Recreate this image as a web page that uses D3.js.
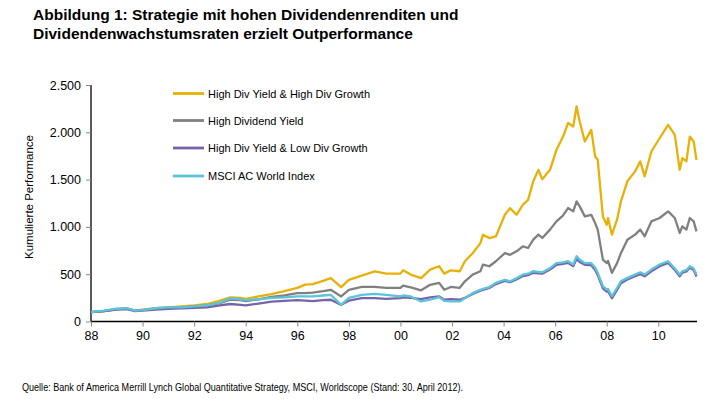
<!DOCTYPE html>
<html>
<head>
<meta charset="utf-8">
<style>
  body { margin: 0; background: #fff; }
  svg { display: block; font-family: "Liberation Sans", Arial, sans-serif; }
</style>
<script src="https://d3js.org/d3.v7.min.js"></script>
</head>
<body>
<svg width="707" height="399"></svg>
<script>
// decimal years of the readings
var years = [1988.0, 1988.5, 1989.0, 1989.4, 1989.7, 1990.0, 1990.5, 1991.0, 1991.5, 1992.0,
  1992.5, 1993.0, 1993.4, 1993.8, 1994.0, 1994.5, 1995.0, 1995.5, 1996.0, 1996.3,
  1996.6, 1997.0, 1997.3, 1997.7, 1998.0, 1998.5, 1999.0, 1999.45, 2000.0, 2000.1,
  2000.4, 2000.8, 2001.15, 2001.5, 2001.7, 2001.95, 2002.3, 2002.5, 2002.8, 2003.1,
  2003.2, 2003.45, 2003.7, 2004.05, 2004.25, 2004.5, 2004.75, 2004.95, 2005.15, 2005.35,
  2005.5, 2005.8, 2006.05, 2006.3, 2006.5, 2006.7, 2006.83, 2006.95, 2007.15, 2007.4,
  2007.55, 2007.65, 2007.85, 2008.0, 2008.05, 2008.2, 2008.4, 2008.55, 2008.8, 2009.1,
  2009.3, 2009.47, 2009.73, 2010.05, 2010.38, 2010.64, 2010.83, 2010.93, 2011.09, 2011.22,
  2011.37, 2011.48];

var highYieldHighGrowth = [100, 110, 130, 140, 115, 125, 140, 150, 160, 170,
  185, 220, 255, 250, 240, 265, 290, 320, 355, 390,
  395, 430, 458, 363, 440, 485, 530, 506, 506, 541,
  496, 458, 548, 584, 506, 541, 531, 637, 722, 828,
  916, 882, 899, 1128, 1198, 1128, 1236, 1286, 1482, 1603,
  1504, 1603, 1815, 1950, 2098, 2062, 2273, 2115, 1903, 2026,
  1744, 1709, 1111, 1023, 1094, 918, 1076, 1270, 1482, 1587,
  1693, 1534, 1797, 1937, 2079, 1973, 1603, 1727, 1693, 1955,
  1903, 1709];

var highDividendYield = [100, 110, 130, 135, 115, 120, 135, 145, 150, 160,
  170, 195, 230, 225, 215, 235, 260, 275, 300, 300,
  306, 320, 335, 265, 335, 365, 365, 355, 355, 380,
  360, 330, 388, 408, 335, 365, 356, 425, 496, 531,
  602, 584, 637, 722, 705, 742, 795, 777, 865, 918,
  883, 971, 1058, 1120, 1199, 1164, 1270, 1217, 1111, 1128,
  1040, 971, 655, 617, 640, 514, 617, 722, 865, 918,
  971, 901, 1058, 1094, 1164, 1094, 936, 1006, 971, 1094,
  1058, 953];

var highYieldLowGrowth = [100, 110, 125, 130, 110, 115, 125, 135, 138, 145,
  150, 170, 185, 175, 170, 190, 210, 218, 225, 220,
  215, 225, 230, 176, 220, 248, 248, 240, 248, 255,
  250, 237, 255, 265, 230, 237, 230, 250, 290, 325,
  335, 355, 395, 430, 415, 445, 480, 490, 515, 510,
  505, 550, 600, 610, 620, 585, 660, 630, 600, 595,
  545, 490, 350, 315, 320, 245, 335, 405, 445, 480,
  500, 478, 530, 585, 620, 545, 478, 515, 530, 568,
  545, 475];

var msciWorld = [100, 115, 135, 140, 115, 120, 140, 150, 150, 160,
  170, 200, 245, 235, 225, 235, 250, 255, 265, 265,
  265, 275, 282, 176, 250, 282, 292, 282, 265, 275,
  265, 212, 230, 258, 219, 212, 212, 247, 300, 335,
  345, 364, 408, 441, 425, 458, 496, 505, 531, 525,
  520, 564, 617, 625, 637, 602, 690, 655, 617, 617,
  570, 514, 373, 338, 345, 267, 355, 425, 461, 496,
  520, 496, 549, 602, 637, 560, 496, 530, 545, 584,
  560, 496];

var seriesNames = ["High Div Yield & High Div Growth", "High Dividend Yield",
  "High Div Yield & Low Div Growth", "MSCI AC World Index"];
var seriesColors = ["#E8B10A", "#808080", "#7764A8", "#5BC3DB"];
var seriesValues = [highYieldHighGrowth, highDividendYield, highYieldLowGrowth, msciWorld];

var xTicks = [1988, 1990, 1992, 1994, 1996, 1998, 2000, 2002, 2004, 2006, 2008, 2010];
var yTicks = [0, 500, 1000, 1500, 2000, 2500];

var svg = d3.select("svg");
var plotLeft = 91, plotRight = 697, plotTop = 85, plotBottom = 321.5;

var x = d3.scaleLinear().domain([1988, 2011.5]).range([plotLeft, plotRight]);
var y = d3.scaleLinear().domain([0, 2500]).range([plotBottom, plotTop]);

var fmt = d3.formatLocale({decimal: ",", thousands: ".", grouping: [3], currency: ["", "€"]}).format(",");

// title
var title = svg.append("text").attr("font-weight", "bold")
  .attr("font-size", 15.5).attr("fill", "#000");
title.append("tspan").attr("x", 33).attr("y", 20).text("Abbildung 1: Strategie mit hohen Dividendenrenditen und");
title.append("tspan").attr("x", 33).attr("y", 39).text("Dividendenwachstumsraten erzielt Outperformance");

// axes
var yAxis = svg.append("g").attr("transform", "translate(" + plotLeft + ",0)")
  .call(d3.axisLeft(y).tickValues(yTicks).tickFormat(fmt).tickSize(5).tickPadding(5));
var xAxis = svg.append("g").attr("transform", "translate(0," + plotBottom + ")")
  .call(d3.axisBottom(x).tickValues(xTicks).tickFormat(function(d) { return d3.format("02")(d % 100); })
    .tickSize(5).tickPadding(5));

[xAxis, yAxis].forEach(function(a) {
  a.select(".domain").attr("stroke", "#000").attr("stroke-width", 1.3);
  a.selectAll(".tick line").attr("stroke", "#888");
  a.selectAll(".tick text").attr("font-size", 12.5).attr("fill", "#000")
    .attr("font-family", "'Liberation Sans', Arial, sans-serif");
});
yAxis.select(".domain").attr("d", "M0," + plotTop + "V" + plotBottom);
xAxis.select(".domain").attr("d", "M" + plotLeft + ",0H" + plotRight);

svg.append("text")
  .attr("transform", "translate(33,197) rotate(-90)")
  .attr("text-anchor", "middle").attr("font-size", 11.5).attr("fill", "#000")
  .text("Kumulierte Performance");

// lines
var line = d3.line()
  .x(function(d, i) { return x(years[i]); })
  .y(function(d) { return y(d); });

seriesValues.forEach(function(vals, i) {
  svg.append("path").datum(vals)
    .attr("fill", "none")
    .attr("stroke", seriesColors[i])
    .attr("stroke-width", 2.3)
    .attr("stroke-linejoin", "round")
    .attr("d", line);
});

// legend
var legendY = [93.5, 120.5, 148, 176];
seriesNames.forEach(function(name, i) {
  var g = svg.append("g").attr("transform", "translate(173," + legendY[i] + ")");
  g.append("line").attr("x1", 0).attr("x2", 31).attr("y1", 0).attr("y2", 0)
    .attr("stroke", seriesColors[i]).attr("stroke-width", 2.8);
  g.append("text").attr("x", 35).attr("y", 4).attr("font-size", 11).attr("fill", "#000").text(name);
});

// source
svg.append("text").attr("x", 22).attr("y", 391).attr("font-size", 11.5).attr("fill", "#000")
  .attr("textLength", 441).attr("lengthAdjust", "spacingAndGlyphs")
  .text("Quelle: Bank of America Merrill Lynch Global Quantitative Strategy, MSCI, Worldscope (Stand: 30. April 2012).");
</script>
</body>
</html>
